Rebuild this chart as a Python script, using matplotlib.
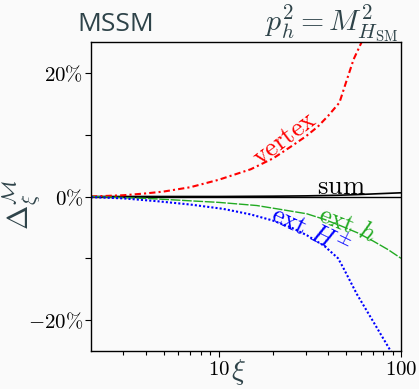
import matplotlib
matplotlib.use("Agg")
import matplotlib.pyplot as plt
from matplotlib.ticker import FixedLocator, FixedFormatter, NullFormatter

plt.rcParams['mathtext.fontset'] = 'cm'

# data, xi and Delta in percent
xi_vertex = [2, 3, 4, 5, 7, 10, 15, 20, 25, 30, 35, 40, 46, 50, 55, 62]
d_vertex = [0.0, 0.2, 0.5, 0.8, 1.5, 2.7, 4.4, 6.2, 8.1, 9.7, 11.3, 13.1, 15.2, 18.5, 22.2, 25.5]

xi_Hpm = [2, 3, 4.6, 7, 10.6, 15, 19.9, 25, 30.6, 38, 45.2, 48.2, 57.3, 70.3, 89]
d_Hpm = [-0.1, -0.3, -0.76, -1.3, -2.0, -2.9, -3.9, -5.0, -6.3, -8.0, -10.0, -11.5, -15.8, -20.2, -25.3]

xi_h = [2, 4, 7, 10, 16.2, 22, 30.5, 38, 46.4, 58, 70.3, 85, 100]
d_h = [0.0, -0.3, -0.7, -0.95, -1.46, -2.1, -2.8, -3.7, -4.7, -5.9, -7.2, -8.6, -10.0]

xi_sum = [2, 10, 20, 30, 45, 57, 75, 100]
d_sum = [0.0, 0.0, 0.05, 0.1, 0.2, 0.3, 0.45, 0.6]

ytick_vals = [-20, 0, 20]
ytick_labels = [r'$-20\%$', r'$0\%$', r'$20\%$']
yminor_vals = [-10, 10]
xtick_vals = [10, 100]
xtick_labels = [r'$10$', r'$100$']

dark = '#2e4349'
bg = '#fafafa'

fig = plt.figure(figsize=(4.19, 3.89), dpi=100, facecolor=bg)
ax = fig.add_axes([91/419, 1-351/389, 310/419, 309/389])
ax.set_facecolor(bg)

ax.axhline(0, color='black', lw=1.0)
ax.plot(xi_sum, d_sum, color='black', lw=1.2)
ax.plot(xi_vertex, d_vertex, color='red', lw=1.5, ls=(0, (3, 1.5, 1, 1.5)))
ax.plot(xi_h, d_h, color='#22aa22', lw=1.0, ls=(0, (7, 1.2)))
ax.plot(xi_Hpm, d_Hpm, color='blue', lw=1.5, ls=(0, (1, 1)))

ax.set_xscale('log')
ax.set_xlim(2, 100)
ax.set_ylim(-25, 25)

ax.xaxis.set_major_locator(FixedLocator(xtick_vals))
ax.xaxis.set_major_formatter(FixedFormatter(xtick_labels))
ax.xaxis.set_minor_locator(FixedLocator([3, 4, 5, 6, 7, 8, 9, 20, 30, 40, 50, 60, 70, 80, 90]))
ax.xaxis.set_minor_formatter(NullFormatter())
ax.yaxis.set_major_locator(FixedLocator(ytick_vals))
ax.yaxis.set_major_formatter(FixedFormatter(ytick_labels))
ax.yaxis.set_minor_locator(FixedLocator(yminor_vals))

ax.tick_params(which='major', direction='out', length=4.5, width=0.8, labelsize=15, pad=1)
ax.tick_params(which='minor', direction='out', length=3, width=0.8)
ax.tick_params(axis='y', which='minor', length=4.5)
for s in ax.spines.values():
    s.set_linewidth(1.0)

ax.set_xlabel(r'$\xi$', fontsize=21, color=dark)
ax.xaxis.set_label_coords(0.475, -0.02)

fig.text(22/419, 1-205/389, r'$\Delta_\xi^\mathcal{M}$', rotation=90, fontsize=21,
         color=dark, ha='center', va='center')

fig.text(77/419, 1-31/389, 'MSSM', fontsize=19, color=dark, family='Open Sans',
         ha='left', va='baseline')
fig.text(265/419, 1-31/389, r'$p_h^2 = M^2_{H_{\rm SM}}$', fontsize=21.5, color=dark,
         ha='left', va='baseline')

ax.text(23.2, 9.3, r'$\mathrm{vertex}$', color='red', fontsize=19, rotation=37,
        ha='center', va='center')
ax.text(47.3, 1.6, r'$\mathrm{sum}$', color='black', fontsize=19, ha='center', va='center')
ax.text(51, -4.6, r'$\mathrm{ext}\ h$', color='#22aa22', fontsize=19, rotation=-22,
        ha='center', va='center')
ax.text(32, -5.6, r'$\mathrm{ext}\ H^{\pm}$', color='blue', fontsize=19, rotation=-26,
        ha='center', va='center')

fig.savefig('out.png', dpi=100, facecolor=bg)
